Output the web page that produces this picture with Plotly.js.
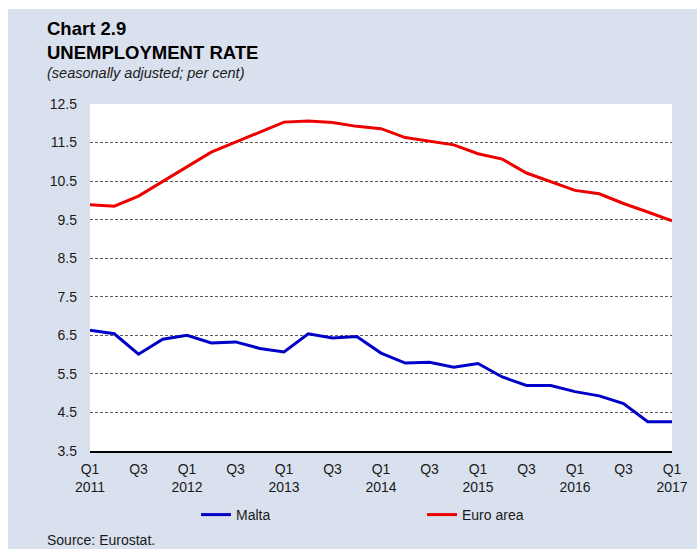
<!DOCTYPE html>
<html>
<head>
<meta charset="utf-8">
<script src="https://cdn.plot.ly/plotly-3.0.1.min.js"></script>
<style>
  html, body { margin: 0; padding: 0; background: #ffffff; }
  #chart { position: absolute; left: 8px; top: 9px; width: 689px; height: 540px; }
</style>
</head>
<body>
<div id="chart"></div>
<script>
// Quarters Q1 2011 – Q1 2017
const quarters = [
  "2011Q1","2011Q2","2011Q3","2011Q4",
  "2012Q1","2012Q2","2012Q3","2012Q4",
  "2013Q1","2013Q2","2013Q3","2013Q4",
  "2014Q1","2014Q2","2014Q3","2014Q4",
  "2015Q1","2015Q2","2015Q3","2015Q4",
  "2016Q1","2016Q2","2016Q3","2016Q4",
  "2017Q1"
];
const malta = [6.63,6.54,6.01,6.40,6.50,6.30,6.33,6.16,6.07,6.54,6.43,6.47,
               6.04,5.78,5.80,5.67,5.77,5.42,5.20,5.20,5.04,4.93,4.73,4.26,4.26];
const euroArea = [9.89,9.85,10.11,10.49,10.89,11.25,11.51,11.77,12.03,12.06,12.02,11.92,
                  11.86,11.63,11.53,11.44,11.21,11.07,10.71,10.49,10.26,10.17,9.92,9.70,9.47];
const tickQuarters = ["2011Q1","2011Q3","2012Q1","2012Q3","2013Q1","2013Q3","2014Q1",
                      "2014Q3","2015Q1","2015Q3","2016Q1","2016Q3","2017Q1"];
const tickLabels = ["Q1<br>2011","Q3","Q1<br>2012","Q3","Q1<br>2013","Q3","Q1<br>2014",
                    "Q3","Q1<br>2015","Q3","Q1<br>2016","Q3","Q1<br>2017"];
const yTicks = [3.5,4.5,5.5,6.5,7.5,8.5,9.5,10.5,11.5,12.5];

const font = "Liberation Sans, Arial, sans-serif";

const traces = [
  { x: quarters, y: malta, type: "scatter", mode: "lines", name: "Malta",
    line: { color: "#0000C8", width: 3 } },
  { x: quarters, y: euroArea, type: "scatter", mode: "lines", name: "Euro area",
    line: { color: "#EE0000", width: 3 } }
];

const layout = {
  width: 689, height: 540,
  paper_bgcolor: "#DAE1EE",
  plot_bgcolor: "#FFFFFF",
  margin: { l: 82, r: 25, t: 95, b: 98 },
  font: { family: font, size: 14, color: "#1a1a1a" },
  title: {
    text: "<b>Chart 2.9</b><br><b>UNEMPLOYMENT RATE</b>",
    font: { family: font, size: 18.5, color: "#000000" },
    x: 39 / 689, xanchor: "left", xref: "container",
    y: 1 - 26 / 540, yanchor: "top", yref: "container"
  },
  xaxis: {
    type: "category",
    range: [0, 24],
    tickmode: "array",
    tickvals: tickQuarters,
    ticktext: tickLabels,
    showgrid: false,
    showline: true, linecolor: "#000000", linewidth: 2,
    ticks: "", ticklabelstandoff: 4,
    tickfont: { family: font, size: 14, color: "#1a1a1a" },
    fixedrange: true
  },
  yaxis: {
    range: [3.5, 12.5],
    tickmode: "array",
    tickvals: yTicks,
    ticktext: yTicks.map(v => v.toFixed(1)),
    showgrid: true, gridcolor: "#5a5a5a", gridwidth: 1, griddash: "3px,2px",
    zeroline: false, showline: false,
    ticks: "", ticklabelstandoff: 12,
    tickfont: { family: font, size: 14, color: "#1a1a1a" },
    fixedrange: true
  },
  showlegend: true,
  legend: {
    orientation: "h",
    xref: "container", yref: "container",
    x: 188 / 689, xanchor: "left",
    y: 34 / 540, yanchor: "middle",
    bgcolor: "rgba(0,0,0,0)",
    entrywidth: 181, entrywidthmode: "pixels",
    font: { family: font, size: 14, color: "#1a1a1a" },
    itemwidth: 30
  },
  annotations: [
    { text: "<i>(seasonally adjusted; per cent)</i>", xref: "paper", yref: "paper",
      x: (37 - 82) / 582, y: (442 - 64) / 347, xanchor: "left", yanchor: "middle",
      showarrow: false, font: { family: font, size: 14.5, color: "#1a1a1a" } },
    { text: "Source: Eurostat.", xref: "paper", yref: "paper",
      x: (37 - 82) / 582, y: (442 - 531) / 347, xanchor: "left", yanchor: "middle",
      showarrow: false, font: { family: font, size: 14, color: "#1a1a1a" } }
  ]
};

Plotly.newPlot("chart", traces, layout, { displayModeBar: false, staticPlot: true });
</script>
</body>
</html>
